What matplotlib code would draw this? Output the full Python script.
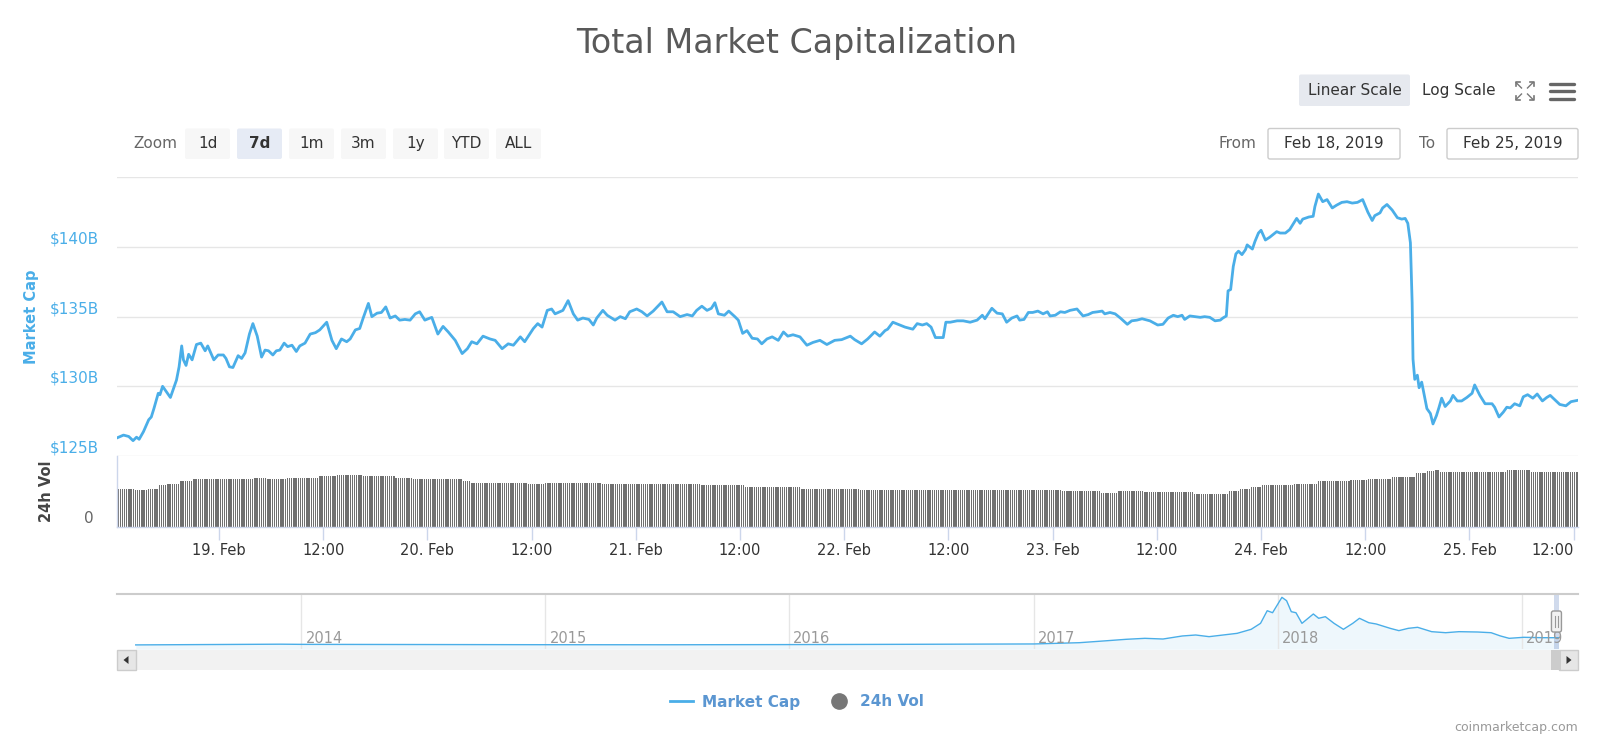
import numpy as np
import matplotlib
matplotlib.use("Agg")
import matplotlib.pyplot as plt
import matplotlib.dates as mdates
from matplotlib.lines import Line2D
from matplotlib.patches import FancyBboxPatch, Rectangle, Polygon

W, H = 1600, 750

# -------- Data --------
t0 = np.datetime64("2019-02-18T00:00")

# total market cap, hours after 18 Feb 00:00 -> $B
mcap_hours = [
    12.25, 13.0, 13.6, 14.1, 14.5, 14.8, 15.3, 15.9, 16.2, 16.5, 17.0, 17.2, 17.5, 18.4,
    19.1, 19.4, 19.7, 19.9, 20.2, 20.5, 20.9, 21.4, 21.9, 22.4, 22.7, 23.4, 23.9, 24.5,
    24.8, 25.2, 25.6, 26.2, 26.6, 27.0, 27.5, 27.9, 28.4, 28.9, 29.3, 29.7, 30.2, 30.6,
    31.0, 31.5, 31.9, 32.4, 32.9, 33.3, 33.9, 34.5, 35.1, 35.6, 36.4, 37.0, 37.5, 38.1,
    38.7, 39.1, 39.7, 40.2, 40.6, 41.2, 41.6, 42.2, 42.7, 43.2, 43.7, 44.3, 44.8, 45.4,
    46.0, 46.6, 47.1, 47.7, 48.5, 49.2, 49.8, 50.4, 51.2, 52.0, 52.6, 53.1, 53.7, 54.4,
    55.2, 55.8, 56.6, 57.3, 57.9, 58.7, 59.2, 60.2, 60.7, 61.2, 61.8, 62.3, 62.7, 63.6,
    64.2, 64.8, 65.3, 65.9, 66.6, 67.1, 67.5, 68.2, 68.7, 69.6, 70.2, 70.8, 71.3, 72.1,
    72.7, 73.3, 74.0, 75.0, 75.6, 76.3, 77.1, 77.9, 78.5, 79.0, 79.6, 80.2, 80.7, 81.1,
    81.5, 82.2, 82.7, 83.4, 83.8, 84.3, 84.8, 85.4, 86.0, 86.5, 87.1, 87.7, 88.4, 89.0,
    89.5, 90.1, 90.9, 91.7, 92.4, 93.2, 94.0, 94.9, 95.7, 96.7, 97.2, 98.0, 98.7, 99.5,
    100.1, 100.7, 101.0, 101.6, 102.4, 103.0, 103.6, 103.9, 104.4, 105.0, 105.5, 106.0,
    106.5, 107.4, 107.7, 108.2, 109.0, 109.7, 110.5, 111.3, 111.9, 112.2, 113.0, 113.6,
    114.2, 114.7, 115.3, 115.9, 116.2, 116.7, 117.2, 117.7, 118.3, 118.9, 119.4, 119.7,
    120.3, 120.9, 121.4, 122.0, 122.8, 123.5, 124.1, 124.6, 125.2, 125.7, 126.0, 126.6,
    127.2, 127.8, 128.6, 129.1, 129.7, 130.3, 130.9, 131.2, 132.1, 132.7, 133.3, 133.9,
    134.4, 134.9, 135.2, 135.8, 136.4, 137.0, 137.5, 138.1, 138.7, 139.3, 139.6, 140.0,
    140.2, 140.5, 140.8, 141.1, 141.4, 141.8, 142.2, 142.4, 142.6, 143.0, 143.3, 143.7,
    144.0, 144.5, 145.0, 145.4, 145.8, 146.2, 146.8, 147.3, 148.1, 148.5, 148.8, 149.5,
    150.0, 150.2, 150.6, 151.1, 151.6, 152.2, 152.7, 153.3, 153.9, 154.5, 155.1, 155.7,
    156.3, 156.8, 157.1, 157.7, 158.0, 158.5, 159.1, 159.7, 160.2, 160.6, 160.9, 161.2,
    161.4, 161.5, 161.7, 162.0, 162.2, 162.5, 162.8, 163.1, 163.5, 163.8, 164.2, 164.5,
    164.8, 165.2, 165.8, 166.1, 166.6, 167.1, 167.7, 168.3, 168.6, 169.2, 169.8, 170.6,
    170.9, 171.4, 171.9, 172.3, 172.7, 173.2, 173.8, 174.2, 174.7, 175.3, 175.8, 176.4,
    176.9, 177.3, 177.9, 178.4, 179.1, 179.7, 180.5,
]
mcap_billions = [
    126.3, 126.5, 126.4, 126.1, 126.35, 126.2, 126.75, 127.6, 127.8, 128.4, 129.5, 129.4, 130.0, 129.2,
    130.45, 131.4, 132.9, 131.9, 131.5, 132.3, 131.9, 133.0, 133.1, 132.55, 132.9, 131.9, 132.25, 132.25,
    132.0, 131.4, 131.35, 132.2, 132.0, 132.4, 133.75, 134.5, 133.6, 132.1, 132.6, 132.55, 132.25, 132.55,
    132.6, 133.1, 132.85, 132.95, 132.5, 132.9, 133.1, 133.75, 133.85, 134.05, 134.6, 133.3, 132.7, 133.4,
    133.2, 133.4, 134.05, 134.15, 134.9, 135.95, 135.0, 135.25, 135.3, 135.7, 134.9, 135.05, 134.75, 134.8,
    134.75, 135.2, 135.35, 134.75, 134.95, 133.75, 134.3, 133.9, 133.3, 132.35, 132.7, 133.2, 133.05, 133.6,
    133.4, 133.3, 132.7, 133.05, 132.95, 133.55, 133.2, 134.15, 134.5, 134.25, 135.45, 135.55, 135.2, 135.45,
    136.15, 135.2, 134.75, 134.9, 134.8, 134.4, 134.9, 135.45, 135.1, 134.75, 135.0, 134.85, 135.35, 135.55,
    135.35, 135.05, 135.4, 136.05, 135.35, 135.35, 135.0, 135.15, 135.05, 135.45, 135.75, 135.45, 135.6, 136.0,
    135.2, 135.1, 135.4, 135.0, 134.75, 133.8, 134.0, 133.45, 133.4, 133.05, 133.4, 133.55, 133.3, 133.9,
    133.6, 133.7, 133.55, 132.95, 133.15, 133.3, 133.0, 133.3, 133.35, 133.6, 133.35, 133.05, 133.4, 133.9,
    133.6, 134.0, 134.1, 134.6, 134.4, 134.25, 134.15, 134.1, 134.5, 134.4, 134.5, 134.25,
    133.5, 133.5, 134.6, 134.6, 134.7, 134.7, 134.6, 134.75, 135.1, 134.85, 135.6, 135.25,
    135.2, 134.6, 134.9, 135.05, 134.75, 134.8, 135.3, 135.3, 135.4, 135.2, 135.35, 135.05,
    135.1, 135.35, 135.3, 135.45, 135.55, 135.05, 135.15, 135.3, 135.35, 135.4, 135.2, 135.3,
    135.2, 134.9, 134.45, 134.7, 134.75, 134.85, 134.75, 134.7, 134.4, 134.45, 134.9, 135.1,
    135.0, 135.1, 134.8, 135.05, 135.0, 134.95, 135.0, 134.95, 134.7, 134.75, 134.9, 135.05,
    136.85, 136.95, 138.6, 139.5, 139.7, 139.45, 139.8, 140.15, 140.05, 139.85, 140.4, 141.0,
    141.2, 140.5, 140.7, 140.9, 141.1, 141.0, 141.0, 141.25, 142.05, 141.7, 142.0, 142.15,
    142.2, 142.9, 143.8, 143.25, 143.4, 142.8, 143.0, 143.2, 143.25, 143.15, 143.2, 143.4,
    142.5, 141.9, 142.25, 142.45, 142.8, 143.05, 142.65, 142.1, 142.0, 142.05, 141.7, 140.3,
    136.0, 131.95, 130.5, 130.8, 129.9, 130.3, 129.35, 128.4, 128.05, 127.3, 127.9, 128.5,
    129.15, 128.55, 128.95, 129.35, 128.95, 128.95, 129.2, 129.5, 130.1, 129.35, 128.75, 128.75,
    128.5, 127.8, 128.15, 128.5, 128.45, 128.75, 128.6, 129.25, 129.4, 129.15, 129.45, 128.95,
    129.2, 129.35, 129.0, 128.7, 128.6, 128.9, 129.0,
]

# 24h volume ($B): runs of equal-height 15-minute bars (run start hour, level)
vol_run_start = [
    12.25, 14.3, 15.8, 17.0, 18.0, 19.5, 21.0, 27.9, 29.5, 31.8, 35.6, 37.6, 40.5, 44.3, 46.3,
    52.1, 52.9, 59.5, 61.5, 67.9, 79.4, 84.6, 90.9, 97.8, 109.3, 120.9, 125.5, 127.5, 130.4,
    136.2, 140.2, 141.6, 142.7, 144.1, 147.7, 150.6, 154.2, 156.3, 158.9, 161.7, 162.9, 164.0,
    164.6, 172.3, 175.0,
]
vol_run_level = [
    21.6, 20.7, 21.6, 23.5, 24.0, 25.7, 26.9, 27.8, 26.9, 27.8, 28.7, 29.5, 28.7, 27.8, 27.0,
    25.9, 24.8, 24.0, 24.8, 24.4, 23.5, 22.5, 21.6, 21.0, 20.6, 20.1, 19.2, 20.1, 19.4,
    18.4, 20.3, 21.6, 22.5, 23.5, 24.0, 25.7, 26.3, 27.2, 28.2, 30.1, 31.4, 32.3,
    31.0, 31.8, 31.0,
]
vol_bar_hours = 0.25

x_start_hour, x_end_hour = 12.25, 180.5
tick_hours = list(range(24, 181, 12))

# navigator: whole history of total market cap ($B)
nav_dates = [
    "2013-04-28", "2013-12-01", "2014-01-01", "2014-07-01", "2015-01-01", "2015-07-01",
    "2016-01-01", "2016-07-01", "2017-01-01", "2017-03-10", "2017-04-21", "2017-05-19",
    "2017-06-16", "2017-07-13", "2017-08-11", "2017-08-31", "2017-09-20", "2017-10-11",
    "2017-11-01", "2017-11-22", "2017-12-06", "2017-12-16", "2017-12-24", "2017-12-31",
    "2018-01-07", "2018-01-14", "2018-01-21", "2018-01-28", "2018-02-06", "2018-02-23",
    "2018-03-03", "2018-03-13", "2018-03-26", "2018-04-09", "2018-04-23", "2018-05-03",
    "2018-05-17", "2018-05-28", "2018-06-18", "2018-07-01", "2018-07-15", "2018-07-29",
    "2018-08-19", "2018-09-09", "2018-09-29", "2018-10-27", "2018-11-16", "2018-11-30",
    "2018-12-13", "2019-01-04", "2019-02-01", "2019-02-25",
]
nav_billions = [
    1.5, 14, 11, 8, 5, 4,
    7, 12, 18, 40, 75, 99,
    116, 104, 157, 174, 145, 174,
    203, 273, 377, 597, 562, 696,
    830, 771, 580, 562, 377, 540,
    465, 493, 377, 273, 377, 465,
    388, 366, 290, 250, 290, 308,
    232, 214, 232, 226, 214, 157,
    116, 134, 127, 127,
]
nav_years = [2014, 2015, 2016, 2017, 2018, 2019]
nav_range = ("2013-03-31", "2019-03-26")
selected_range = ("2019-02-18", "2019-02-25T12:00")

# -------- Style --------
BLUE = "#4aaee8"
LEGEND_BLUE = "#5b96d1"
BAR_GRAY = "#707070"
GRID = "#e6e6e6"
AXIS_LINE = "#ccd6eb"
TEXT = "#333333"


def hours_to_num(h):
    h = np.asarray(h, dtype=float)
    return mdates.date2num(t0 + np.round(h * 60).astype("timedelta64[m]"))


def px_rect(x0, y0, x1, y1):
    return [x0 / W, 1 - y1 / H, (x1 - x0) / W, (y1 - y0) / H]


fig = plt.figure(figsize=(16, 7.5), dpi=100)
fig.patch.set_facecolor("white")

# -------- Main pane: market cap --------
ax = fig.add_axes(px_rect(117, 177.3, 1578, 456))
ax_vol = fig.add_axes(px_rect(117, 456, 1578, 526.7), sharex=ax)

mcap_x = hours_to_num(mcap_hours)
line, = ax.plot(mcap_x, mcap_billions, color=BLUE, lw=2.0, solid_joinstyle="round",
                label="Market Cap")
ax.set_ylim(125, 145)
ax.set_yticks([125, 130, 135, 140, 145])
ax.grid(axis="y", color=GRID, lw=1)
ax.tick_params(left=False, labelleft=False, bottom=False, labelbottom=False)
for s in ax.spines.values():
    s.set_visible(False)
for v in [125, 130, 135, 140]:
    ax.annotate(f"${v}B", xy=(0, v), xycoords=("axes fraction", "data"),
                xytext=(-18, 8), textcoords="offset pixels", ha="right", va="center",
                color=BLUE, fontsize=11, annotation_clip=False)
ax.set_ylabel("Market Cap", color=BLUE, fontsize=10.5, fontweight="bold")
ax.yaxis.set_label_coords((39 - 117) / 1461, 0.5)

# -------- Volume pane --------
bar_hours = np.arange(x_start_hour, x_end_hour, vol_bar_hours) + vol_bar_hours / 2
run_idx = np.searchsorted(vol_run_start, bar_hours, side="right") - 1
bar_heights = np.asarray(vol_run_level)[run_idx]
ax_vol.bar(hours_to_num(bar_hours), bar_heights, width=vol_bar_hours / 24 * 0.62,
           color=BAR_GRAY, linewidth=0)
ax_vol.set_ylim(0, 40)
ax_vol.set_yticks([])
for side in ["top", "right"]:
    ax_vol.spines[side].set_visible(False)
for side in ["left", "bottom"]:
    ax_vol.spines[side].set_color(AXIS_LINE)
    ax_vol.spines[side].set_linewidth(1)
ax_vol.annotate("0", xy=(0, 0), xycoords=("axes fraction", "data"), xytext=(-23, 8),
                textcoords="offset pixels", ha="right", va="center", color="#666666",
                fontsize=11, annotation_clip=False)
ax_vol.set_ylabel("24h Vol", color="#444444", fontsize=10.5, fontweight="bold")
ax_vol.yaxis.set_label_coords((54 - 117) / 1461, 0.5)

tick_labels = [f"{18 + h // 24}. Feb" if h % 24 == 0 else "12:00" for h in tick_hours]
ax_vol.set_xticks(hours_to_num(tick_hours))
ax_vol.set_xticklabels(tick_labels, fontsize=10.5, color=TEXT)
ax_vol.tick_params(axis="x", length=9.5, color=AXIS_LINE, width=1, pad=2)
ax_vol.get_xticklabels()[-1].set_ha("right")
ax_vol.set_xlim(hours_to_num(x_start_hour), hours_to_num(x_end_hour))

# -------- Navigator --------
ax_nav = fig.add_axes(px_rect(117, 594, 1578, 649.3))
nav_x = mdates.date2num(np.array(nav_dates, dtype="datetime64[D]"))
ax_nav.set_ylim(-75, 888)
ax_nav.fill_between(nav_x, nav_billions, -75, color=BLUE, alpha=0.09, lw=0)
ax_nav.plot(nav_x, nav_billions, color=BLUE, lw=1)
ax_nav.set_xlim(mdates.date2num(np.datetime64(nav_range[0])),
                mdates.date2num(np.datetime64(nav_range[1])))
year_x = mdates.date2num(np.array([f"{y}-01-01" for y in nav_years], dtype="datetime64[D]"))
ax_nav.set_xticks(year_x)
ax_nav.grid(axis="x", color=GRID, lw=1)
ax_nav.tick_params(bottom=False, labelbottom=False, left=False, labelleft=False)
for yr, x in zip(nav_years, year_x):
    ax_nav.annotate(str(yr), xy=(x, 0), xycoords=("data", "axes fraction"),
                    xytext=(4, 3), textcoords="offset pixels", ha="left", va="bottom",
                    fontsize=10.5, color="#999999")
for side in ["left", "right", "bottom"]:
    ax_nav.spines[side].set_visible(False)
ax_nav.spines["top"].set_color("#cccccc")
ax_nav.spines["top"].set_linewidth(1.5)
sel0, sel1 = (mdates.date2num(np.datetime64(d)) for d in selected_range)
ax_nav.axvspan(sel0, sel1, color="#6685c2", alpha=0.3, lw=0)

# -------- UI overlay (title, buttons, inputs, scrollbar, legend) --------
ui = fig.add_axes([0, 0, 1, 1], zorder=10)
ui.set_xlim(0, W)
ui.set_ylim(H, 0)
ui.axis("off")

ui.text(797, 43, "Total Market Capitalization", ha="center", va="center",
        fontsize=24, color="#595959")


def button(x0, y0, w, h, text, fill, bold=False, edge="none", color=TEXT):
    ui.add_patch(FancyBboxPatch((x0, y0), w, h, boxstyle="round,pad=0,rounding_size=2",
                                fc=fill, ec=edge, lw=1))
    ui.text(x0 + w / 2, y0 + h / 2, text, ha="center", va="center", fontsize=11,
            color=color, fontweight="bold" if bold else "normal")


button(1299, 74.5, 111, 31.5, "Linear Scale", "#e6e9ef")
ui.text(1459, 90.5, "Log Scale", ha="center", va="center", fontsize=11, color=TEXT)

# fullscreen icon
cx, cy = 1524.5, 91
for sx in (-1, 1):
    for sy in (-1, 1):
        ui.plot([cx + sx * 3, cx + sx * 8.5], [cy + sy * 3, cy + sy * 8.5], color="#777777", lw=1)
        ui.plot([cx + sx * 5, cx + sx * 9, cx + sx * 9], [cy + sy * 9, cy + sy * 9, cy + sy * 5],
                color="#777777", lw=1.2)
# menu icon
for yy in (83.5, 91, 98.5):
    ui.plot([1550, 1574], [yy, yy], color="#666666", lw=2.4, solid_capstyle="round")

ui.text(155, 143.7, "Zoom", ha="center", va="center", fontsize=11, color="#666666")
zoom_labels = ["1d", "7d", "1m", "3m", "1y", "YTD", "ALL"]
zoom_left = [185, 237, 289, 341, 393, 444, 496]
for lab, x0 in zip(zoom_labels, zoom_left):
    sel = lab == "7d"
    button(x0, 128.5, 45, 30.5, lab, "#e6ebf5" if sel else "#f7f7f7", bold=sel)

ui.text(1237, 143.7, "From", ha="center", va="center", fontsize=11, color="#666666")
button(1268, 128.5, 132, 30.5, "Feb 18, 2019", "white", edge="#cccccc")
ui.text(1427, 143.7, "To", ha="center", va="center", fontsize=11, color="#666666")
button(1447, 128.5, 131, 30.5, "Feb 25, 2019", "white", edge="#cccccc")

# scrollbar + navigator handle
ui.add_patch(Rectangle((117, 650), 1461, 20, fc="#f2f2f2", ec="none"))
ui.add_patch(Rectangle((117, 650), 19, 20, fc="#e6e6e6", ec="#cccccc", lw=1))
ui.add_patch(Polygon([(123.5, 660), (128.5, 656), (128.5, 664)], fc="#333333", ec="none"))
ui.add_patch(Rectangle((1559, 650), 19, 20, fc="#e6e6e6", ec="#cccccc", lw=1))
ui.add_patch(Polygon([(1571.5, 660), (1566.5, 656), (1566.5, 664)], fc="#333333", ec="none"))
hx = ax_nav.transData.transform(((sel0 + sel1) / 2, 0))[0]
ui.add_patch(Rectangle((hx - 5, 650), 10, 20, fc="#cccccc", ec="none"))
ui.add_patch(FancyBboxPatch((hx - 5, 611), 10, 21, boxstyle="round,pad=0,rounding_size=2",
                            fc="#f2f2f2", ec="#999999", lw=1))
for dx in (-1.5, 1.5):
    ui.plot([hx + dx, hx + dx], [616, 627], color="#999999", lw=0.8)

# legend
vol_handle = Line2D([], [], marker="o", ls="none", markersize=11, color="#777777")
fig.legend([line, vol_handle], ["Market Cap", "24h Vol"], loc="center",
           bbox_to_anchor=(797 / W, 1 - 702 / H), ncol=2, frameon=False,
           handlelength=1.5, handletextpad=0.6, columnspacing=1.8,
           prop={"weight": "bold", "size": 11}, labelcolor=LEGEND_BLUE)

ui.text(1578, 728, "coinmarketcap.com", ha="right", va="center", fontsize=9, color="#999999")

fig.savefig("out.png", dpi=100)
